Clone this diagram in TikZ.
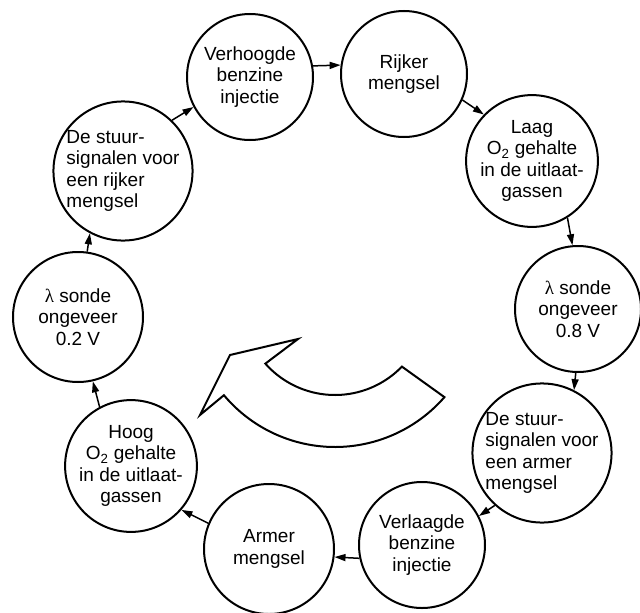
\documentclass[tikz,border=0pt]{standalone}
\usepackage{fontspec}
\setmainfont{Liberation Sans}
\newfontfamily\lamfont{Liberation Serif}
\usetikzlibrary{arrows.meta,calc}
\begin{document}
\begin{tikzpicture}[x=1pt,y=1pt,
  bub/.style={circle,draw,line width=2pt,minimum size=126pt,inner sep=0pt,
    align=center,font=\fontsize{19}{21.5}\selectfont},
  arr/.style={line width=1.5pt,-{Triangle[length=11pt,width=7pt]}},
  bigarrow/.style={draw,line width=2pt,line join=miter}]
\useasboundingbox (0,0) rectangle (640,-613);
\node[bub] (V)  at (250,-77)  {Verhoogde\\benzine\\injectie};
\node[bub] (R)  at (404,-74)  {Rijker\\mengsel};
\node[bub] (L)  at (532,-161) {Laag\\O\textsubscript{2} gehalte\\in de uitlaat-\\gassen};
\node[bub] (S8) at (578,-309) {{\lamfont λ} sonde\\ongeveer\\0.8 V};
\node[bub,align=left,minimum size=128pt] (SA) at (542,-453) {De stuur-\\signalen voor\\een armer\\mengsel};
\node[bub] (VL) at (422,-545) {Verlaagde\\benzine\\injectie};
\node[bub,minimum size=130pt] (A)  at (269,-549) {Armer\\mengsel};
\node[bub] (H)  at (131,-466) {Hoog\\O\textsubscript{2} gehalte\\in de uitlaat-\\gassen};
\node[bub,minimum size=130pt] (S2) at (78,-317)  {{\lamfont λ} sonde\\ongeveer\\0.2 V};
\node[bub,align=left,minimum size=130pt] (SR) at (123,-171) {De stuur-\\signalen voor\\een rijker\\mengsel};
\draw[arr] (V.10) -- (R.172);
\draw[arr] (R.-24) -- (L.136);
\draw[arr] (L.-58) -- (S8.95);
\draw[arr] (S8.-92) -- (SA.63);
\draw[arr] (SA.228) -- (VL.27);
\draw[arr] (VL.192) -- (A.-7);
\draw[arr] (A.157) -- (H.-41);
\draw[arr] (H.118) -- (S2.-77);
\draw[arr] (S2.82) -- (SR.242);
\draw[arr] (SR.46) -- (V.208);
\coordinate (C) at (335,-302);
\path[bigarrow] ($(C)+(-44:93)$) -- ($(C)+(-41:145)$)
  arc[start angle=-41,end angle=-140,radius=145]
  -- (200,-415) -- (230,-355) -- (298,-339)
  -- ($(C)+(-138.5:93)$)
  arc[start angle=-138.5,end angle=-44,radius=93] -- cycle;
\end{tikzpicture}
\end{document}
